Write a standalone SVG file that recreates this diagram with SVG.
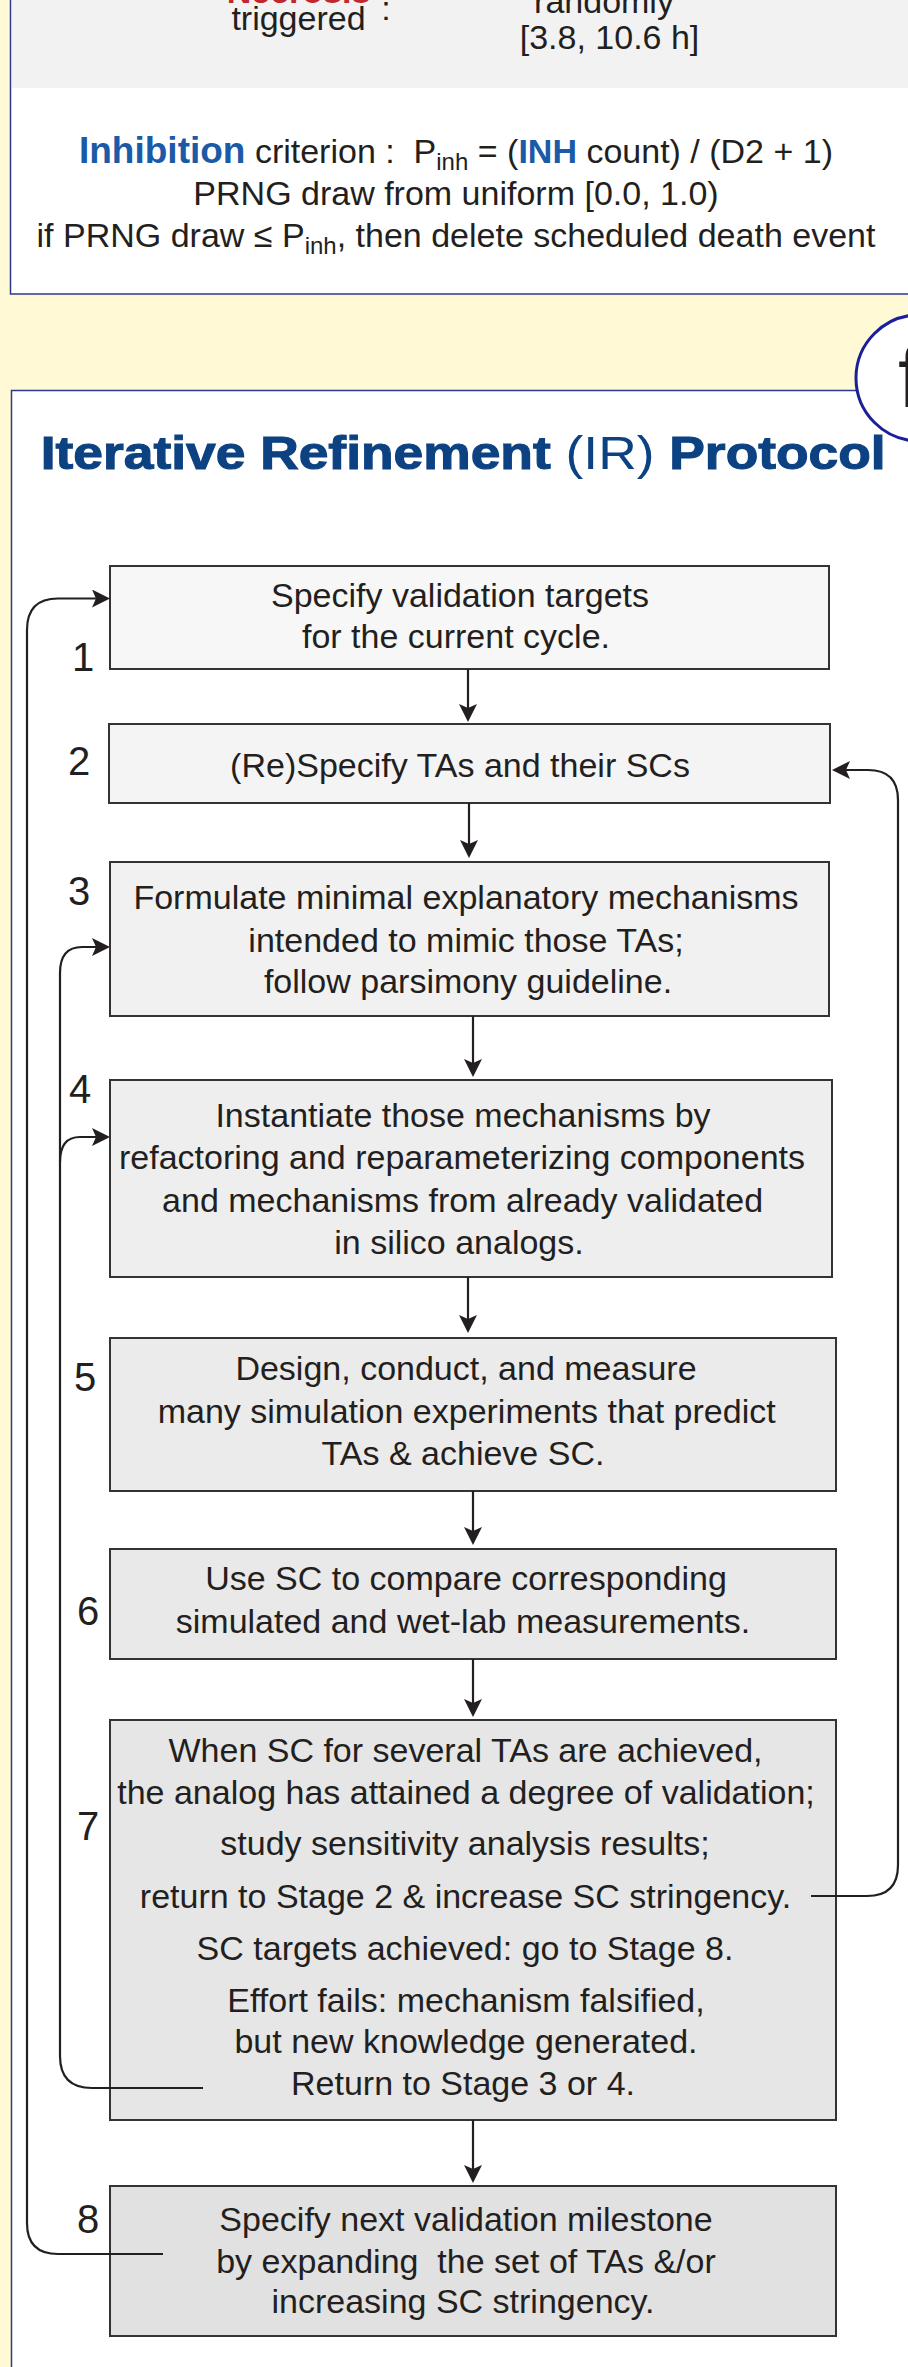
<svg xmlns="http://www.w3.org/2000/svg" width="908" height="2367" viewBox="0 0 908 2367">
<style>
text{font-family:"Liberation Sans",Arial,sans-serif;fill:#231f20}
.b{font-size:34px}
.num{font-size:40px;text-anchor:middle}
.c{text-anchor:middle}
.box{stroke:#333333;stroke-width:2}
.con{fill:none;stroke:#231f20;stroke-width:2.2}
.blueb{font-weight:bold;fill:#1a5aa6}
.frame{fill:#ffffff;stroke:#2b3990;stroke-width:1.5}
.title{font-size:47px;font-weight:bold;fill:#0c4282;stroke:#0c4282;stroke-width:1.1}
</style>
<defs>
<marker id="ah" viewBox="-18 -9 18 18" refX="-10" refY="0" markerWidth="18" markerHeight="18" markerUnits="userSpaceOnUse" orient="auto">
<path d="M0,0 L-18,-9 L-14,0 L-18,9 Z" fill="#231f20"/>
</marker>
</defs>
<rect x="0" y="0" width="908" height="2367" fill="#fff9d5"/>

<g id="top-panel">
<rect class="frame" x="10.5" y="-20" width="1000" height="314"/>
<rect x="12" y="0" width="896" height="88" fill="#f2f2f2"/>
<text x="298.5" y="2.5" class="b c" font-weight="bold" style="fill:#c1272d">Necrosis</text>
<text x="298.5" y="30" class="b c">triggered</text>
<text x="386" y="20" class="b c">:</text>
<text x="604" y="13" class="b c">randomly</text>
<text x="609.5" y="49" class="b c">[3.8, 10.6 h]</text>
<text x="456" y="162.7" class="b c" xml:space="preserve"><tspan class="blueb" font-size="37">Inhibition</tspan> criterion :  P<tspan font-size="24" dy="7">inh</tspan><tspan dy="-7"> = (</tspan><tspan class="blueb">INH</tspan> count) / (D2 + 1)</text>
<text x="456" y="205" class="b c">PRNG draw from uniform [0.0, 1.0)</text>
<text x="456" y="246.7" class="b c">if PRNG draw ≤ P<tspan font-size="24" dy="7">inh</tspan><tspan dy="-7">, then delete scheduled death event</tspan></text>
</g>

<g id="ir-panel">
<rect class="frame" x="11.5" y="390.5" width="1000" height="2100"/>
<text x="40.7" y="469" class="title" textLength="845" lengthAdjust="spacingAndGlyphs">Iterative Refinement <tspan font-weight="normal" stroke-width="0">(IR)</tspan> Protocol</text>
</g>

<g id="label-f">
<circle cx="919" cy="378" r="63" fill="#ffffff" stroke="#1b1f9a" stroke-width="3"/>
<text x="898" y="407" font-size="85">f</text>
</g>

<g id="step1">
<rect class="box" x="110" y="566" width="719" height="103" fill="#f7f7f7"/>
<text class="b c" x="460" y="607">Specify validation targets</text>
<text class="b c" x="456" y="648">for the current cycle.</text>
<text class="num" x="83" y="670.7">1</text>
</g>

<g id="step2">
<rect class="box" x="109" y="724" width="721" height="79" fill="#f4f4f4"/>
<text class="b c" x="460" y="777">(Re)Specify TAs and their SCs</text>
<text class="num" x="79" y="775">2</text>
</g>

<g id="step3">
<rect class="box" x="110" y="862" width="719" height="154" fill="#f1f1f1"/>
<text class="b c" x="466" y="909">Formulate minimal explanatory mechanisms</text>
<text class="b c" x="466" y="951.7">intended to mimic those TAs;</text>
<text class="b c" x="468" y="993">follow parsimony guideline.</text>
<text class="num" x="79" y="905">3</text>
</g>

<g id="step4">
<rect class="box" x="110" y="1080" width="722" height="197" fill="#eeeeee"/>
<text class="b c" x="463" y="1127.3">Instantiate those mechanisms by</text>
<text class="b c" x="462" y="1169.3">refactoring and reparameterizing components</text>
<text class="b c" x="462.6" y="1211.7">and mechanisms from already validated</text>
<text class="b c" x="459" y="1254">in silico analogs.</text>
<text class="num" x="80" y="1103">4</text>
</g>

<g id="step5">
<rect class="box" x="110" y="1338" width="726" height="153" fill="#ebebeb"/>
<text class="b c" x="466" y="1380">Design, conduct, and measure</text>
<text class="b c" x="466.7" y="1422.7">many simulation experiments that predict</text>
<text class="b c" x="463" y="1465">TAs &amp; achieve SC.</text>
<text class="num" x="85" y="1391">5</text>
</g>

<g id="step6">
<rect class="box" x="110" y="1549" width="726" height="110" fill="#e9e9e9"/>
<text class="b c" x="466" y="1590">Use SC to compare corresponding</text>
<text class="b c" x="463" y="1633.3">simulated and wet-lab measurements.</text>
<text class="num" x="88" y="1625">6</text>
</g>

<g id="step7">
<rect class="box" x="110" y="1720" width="726" height="400" fill="#e6e6e6"/>
<text class="b c" x="465.5" y="1761.7">When SC for several TAs are achieved,</text>
<text class="b c" x="466" y="1804">the analog has attained a degree of validation;</text>
<text class="b c" x="465" y="1855">study sensitivity analysis results;</text>
<text class="b c" x="465.5" y="1908">return to Stage 2 &amp; increase SC stringency.</text>
<text class="b c" x="465" y="1960">SC targets achieved: go to Stage 8.</text>
<text class="b c" x="466" y="2011.7">Effort fails: mechanism falsified,</text>
<text class="b c" x="466" y="2053">but new knowledge generated.</text>
<text class="b c" x="463" y="2095">Return to Stage 3 or 4.</text>
<text class="num" x="88" y="1840">7</text>
</g>

<g id="step8">
<rect class="box" x="110" y="2186" width="726" height="150" fill="#e1e1e1"/>
<text class="b c" x="466" y="2231">Specify next validation milestone</text>
<text class="b c" x="466" y="2272.7" xml:space="preserve">by expanding  the set of TAs &amp;/or</text>
<text class="b c" x="463" y="2313">increasing SC stringency.</text>
<text class="num" x="88" y="2233">8</text>
</g>

<g id="connectors">
<path class="con" d="M468 669 V712" marker-end="url(#ah)"/>
<path class="con" d="M469 803 V848" marker-end="url(#ah)"/>
<path class="con" d="M473 1016 V1067" marker-end="url(#ah)"/>
<path class="con" d="M468 1277 V1323" marker-end="url(#ah)"/>
<path class="con" d="M473 1491 V1535" marker-end="url(#ah)"/>
<path class="con" d="M473 1659 V1707" marker-end="url(#ah)"/>
<path class="con" d="M473 2120 V2173" marker-end="url(#ah)"/>
<path class="con" d="M163 2254 H58 Q27 2254 27 2223 V630 Q27 598.5 58 598.5 H100" marker-end="url(#ah)"/>
<path class="con" d="M203 2088 H92 Q60 2088 60 2056 V973 Q60 947 82 947 H100" marker-end="url(#ah)"/>
<path class="con" d="M60 1162 Q60 1137 80 1137 H100" marker-end="url(#ah)"/>
<path class="con" d="M811 1896 H867 Q898 1896 898 1865 V800 Q898 770 868 770 H842" marker-end="url(#ah)"/>
</g>
</svg>
